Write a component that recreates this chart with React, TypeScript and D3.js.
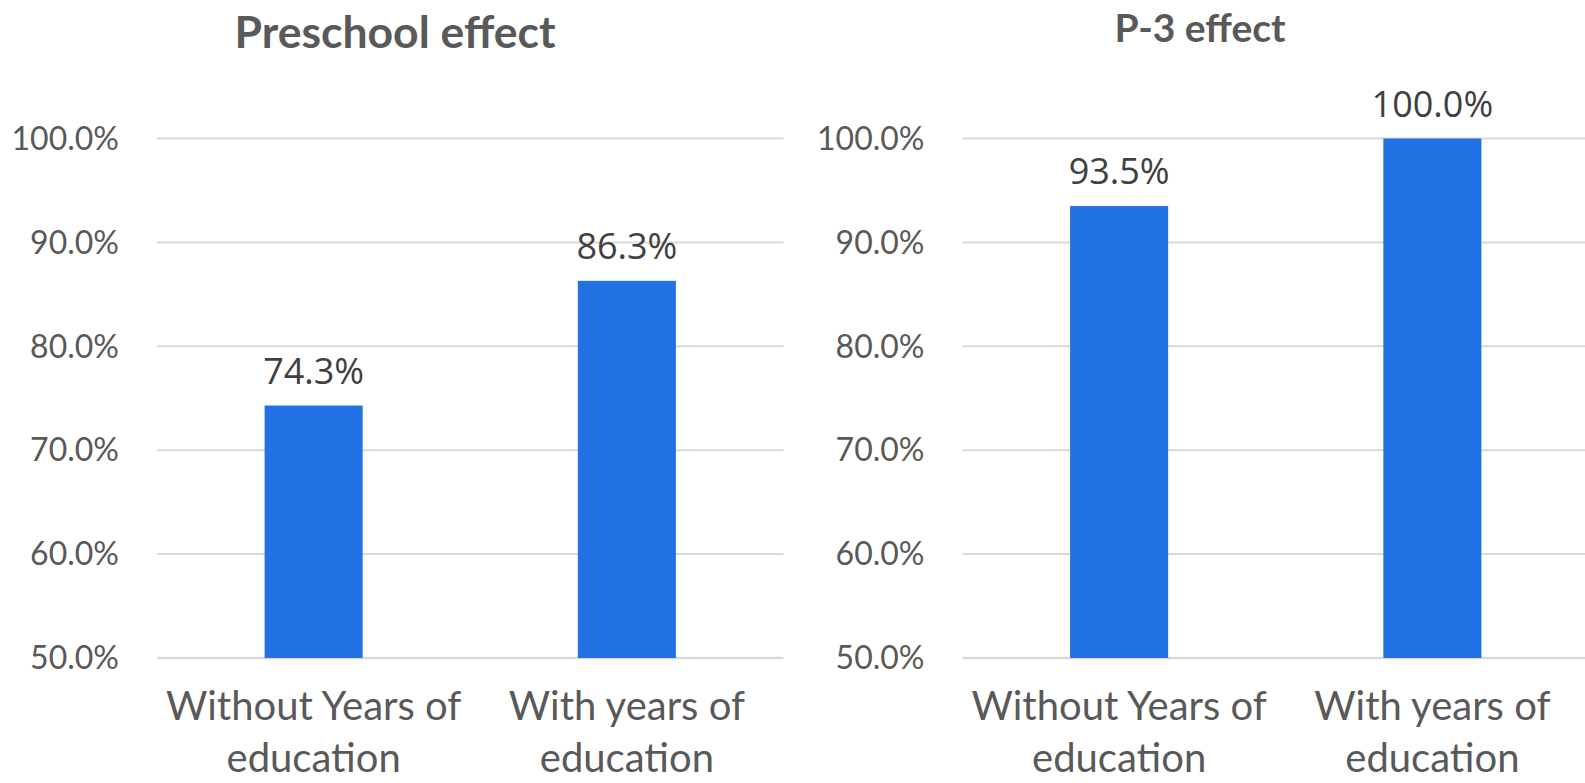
import * as d3 from "d3";
import { useEffect } from "react";

// chart data
const categories = ["Without Years of education", "With years of education"];
const categoryLines = [
  ["Without Years of", "education"],
  ["With years of", "education"],
];
const preschoolValues = [74.3, 86.3];
const p3Values = [93.5, 100.0];
const yTicks = [50, 60, 70, 80, 90, 100];
const titles = ["Preschool effect", "P-3 effect"];

const W = 1585;
const H = 783;

type PanelProps = {
  title: string;
  titleSize: number;
  values: number[];
  left: number;
  right: number;
  titleX: number;
  titleY: number;
};

function Panel({ title, titleSize, values, left, right, titleX, titleY }: PanelProps) {
  const y = d3.scaleLinear().domain([50, 100]).range([658, 138.5]);
  const x = d3.scaleBand<string>().domain(categories).range([left, right]);
  const barW = x.bandwidth() * 0.313;
  const fmt = (v: number) => d3.format(".1f")(v) + "%";

  return (
    <g>
      <text
        x={titleX}
        y={titleY}
        textAnchor="middle"
        fontFamily="Lato, sans-serif"
        fontWeight="bold"
        fontSize={titleSize}
        fill="#595959"
      >
        {title}
      </text>

      {/* gridlines + y ticks */}
      {yTicks.map((t) => (
        <g key={t}>
          <line
            x1={left}
            x2={right}
            y1={y(t)}
            y2={y(t)}
            stroke="#d9d9d9"
            strokeWidth={t === 50 ? 2.5 : 2}
          />
          <text
            x={left - 38}
            y={y(t)}
            dy="0.35em"
            textAnchor="end"
            fontFamily="Lato, sans-serif"
            fontSize={32}
            fill="#595959"
          >
            {fmt(t)}
          </text>
        </g>
      ))}

      {/* bars */}
      {categories.map((c, i) => {
        const cx = x(c)! + x.bandwidth() / 2;
        return (
          <g key={c}>
            <rect
              x={cx - barW / 2}
              y={y(values[i])}
              width={barW}
              height={y(50) - y(values[i])}
              fill="#2372e5"
            />
            <text
              x={cx}
              y={y(values[i]) - 22}
              textAnchor="middle"
              fontFamily="'Open Sans', sans-serif"
              fontSize={36}
              fill="#404040"
            >
              {fmt(values[i])}
            </text>
            {categoryLines[i].map((line, j) => (
              <text
                key={j}
                x={cx}
                y={720 + j * 52}
                textAnchor="middle"
                fontFamily="Lato, sans-serif"
                fontSize={40}
                fill="#595959"
              >
                {line}
              </text>
            ))}
          </g>
        );
      })}
    </g>
  );
}

export default function App() {
  useEffect(() => {
    document.body.style.margin = "0";
  }, []);

  return (
    <svg
      width={W}
      height={H}
      style={{ position: "absolute", left: 0, top: 0, background: "#fff" }}
    >
      <Panel
        title={titles[0]}
        titleSize={44.5}
        values={preschoolValues}
        left={157}
        right={783.5}
        titleX={395}
        titleY={48}
      />
      <Panel
        title={titles[1]}
        titleSize={39}
        values={p3Values}
        left={962.5}
        right={1589}
        titleX={1200}
        titleY={42}
      />
    </svg>
  );
}
